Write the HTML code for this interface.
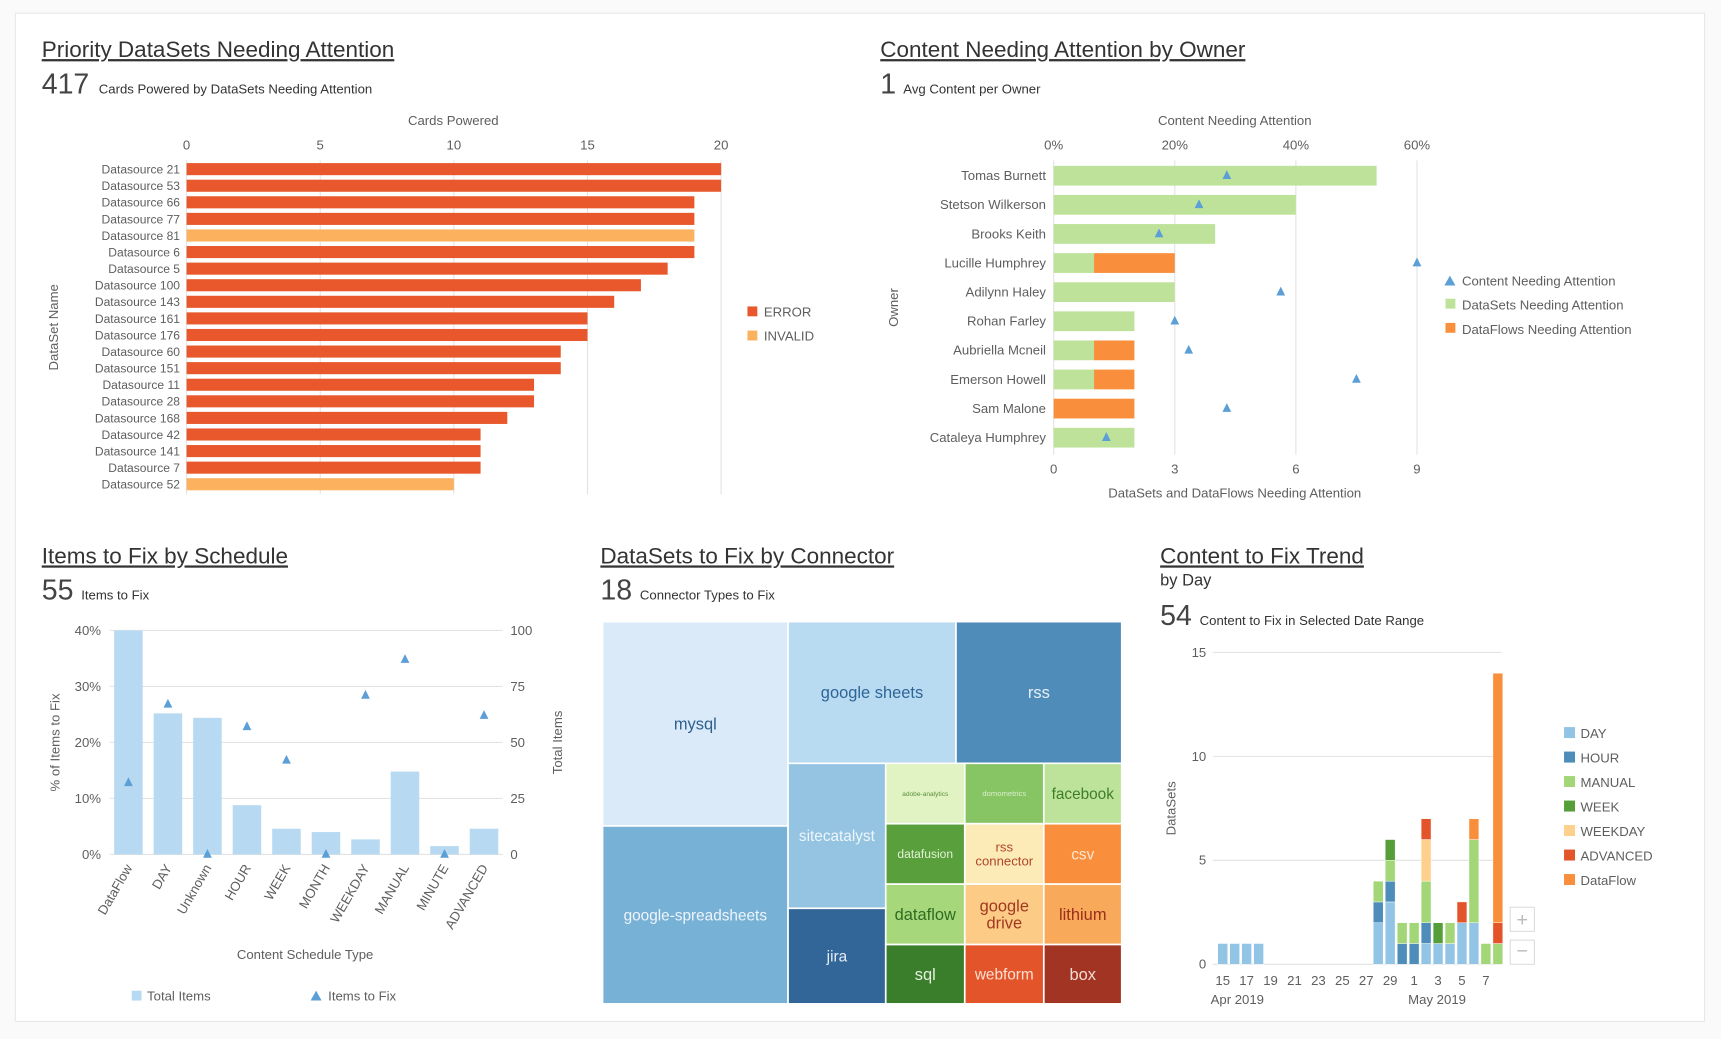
<!DOCTYPE html>
<html><head><meta charset="utf-8">
<style>
html,body{margin:0;padding:0;background:#fff;width:1721px;height:1039px;overflow:hidden}
svg{display:block;font-family:"Liberation Sans",sans-serif}
.t{fill:#5e5e5e;font-size:12px}
.ttl{fill:#333;font-size:20.5px;text-decoration:underline}
.big{fill:#444;font-size:26px;font-weight:300}
.sub{fill:#333;font-size:12px}
.grid{stroke:#e3e3e3;stroke-width:1}
</style></head><body>
<svg id="s" width="1721" height="1039" viewBox="0 0 1568 946" preserveAspectRatio="none">
<rect x="0" y="0" width="1568" height="946" fill="#fafafa"/>
<rect x="14" y="12" width="1539" height="918" fill="#fff" stroke="#e8e8e8"/>
<g id="g1">
<text x="38" y="52" class="ttl">Priority DataSets Needing Attention</text>
<text x="38" y="85" class="big">417</text>
<text x="90" y="85" class="sub">Cards Powered by DataSets Needing Attention</text>
<text x="413" y="114" class="t" text-anchor="middle">Cards Powered</text>
<text x="0" y="0" class="t" text-anchor="middle" transform="translate(53,298) rotate(-90)">DataSet Name</text>
<rect x="681" y="279" width="9" height="9" fill="#e8582c"/>
<text x="696" y="288" class="t">ERROR</text>
<rect x="681" y="301" width="9" height="9" fill="#fbb15e"/>
<text x="696" y="310" class="t">INVALID</text>
</g>
<g id="g2">
<text x="802" y="52" class="ttl">Content Needing Attention by Owner</text>
<text x="802" y="85" class="big">1</text>
<text x="823" y="85" class="sub">Avg Content per Owner</text>
<text x="1125" y="114" class="t" text-anchor="middle">Content Needing Attention</text>
<text x="1125" y="453" class="t" text-anchor="middle">DataSets and DataFlows Needing Attention</text>
<text x="0" y="0" class="t" text-anchor="middle" transform="translate(818,280) rotate(-90)">Owner</text>
<path d="M1316,260 l5,-9 l5,9z" fill="#5b9fd6"/>
<text x="1332" y="260" class="t">Content Needing Attention</text>
<rect x="1317" y="272" width="9" height="9" fill="#bfe29b"/>
<text x="1332" y="282" class="t">DataSets Needing Attention</text>
<rect x="1317" y="294" width="9" height="9" fill="#f98f3c"/>
<text x="1332" y="304" class="t">DataFlows Needing Attention</text>
</g>
<g id="g3">
<text x="38" y="513" class="ttl">Items to Fix by Schedule</text>
<text x="38" y="546" class="big">55</text>
<text x="74" y="546" class="sub">Items to Fix</text>
<text x="0" y="0" class="t" text-anchor="middle" transform="translate(54,676) rotate(-90)">% of Items to Fix</text>
<text x="0" y="0" class="t" text-anchor="middle" transform="translate(512,676) rotate(-90)">Total Items</text>
<text x="278" y="873" class="t" text-anchor="middle">Content Schedule Type</text>
<rect x="120" y="902" width="9" height="9" fill="#b7daf2"/>
<text x="134" y="911" class="t">Total Items</text>
<path d="M283,911 l5,-9 l5,9z" fill="#5b9fd6"/>
<text x="299" y="911" class="t">Items to Fix</text>
</g>
<g id="g4">
<text x="547" y="513" class="ttl">DataSets to Fix by Connector</text>
<text x="547" y="546" class="big">18</text>
<text x="583" y="546" class="sub">Connector Types to Fix</text>
</g>
<g id="g5">
<text x="1057" y="513" class="ttl">Content to Fix Trend</text>
<text x="1057" y="533" style="fill:#333;font-size:15px">by Day</text>
<text x="1057" y="569" class="big">54</text>
<text x="1093" y="569" class="sub">Content to Fix in Selected Date Range</text>
<text x="0" y="0" class="t" text-anchor="middle" transform="translate(1071,736) rotate(-90)">DataSets</text>
<text x="1103" y="914" class="t">Apr 2019</text>
<text x="1283" y="914" class="t">May 2019</text>
<rect x="1376" y="826" width="22" height="22" fill="#fff" stroke="#ddd"/>
<text x="1387" y="843" text-anchor="middle" style="fill:#bbb;font-size:18px">+</text>
<rect x="1376" y="856" width="22" height="22" fill="#fff" stroke="#ddd"/>
<text x="1387" y="872" text-anchor="middle" style="fill:#bbb;font-size:18px">−</text>
</g>
</svg>
<script>
// ---- chart 1 data
const dsNames = ["Datasource 21","Datasource 53","Datasource 66","Datasource 77","Datasource 81","Datasource 6","Datasource 5","Datasource 100","Datasource 143","Datasource 161","Datasource 176","Datasource 60","Datasource 151","Datasource 11","Datasource 28","Datasource 168","Datasource 42","Datasource 141","Datasource 7","Datasource 52"];
const dsCards = [20,20,19,19,19,19,18,17,16,15,15,14,14,13,13,12,11,11,11,10];
const dsStatus = ["E","E","E","E","I","E","E","E","E","E","E","E","E","E","E","E","E","E","E","I"];
const cardTicks = [0,5,10,15,20];
// ---- chart 2 data
const owners = ["Tomas Burnett","Stetson Wilkerson","Brooks Keith","Lucille Humphrey","Adilynn Haley","Rohan Farley","Aubriella Mcneil","Emerson Howell","Sam Malone","Cataleya Humphrey"];
const ownerDatasets = [8,6,4,1,3,2,1,1,0,2];
const ownerDataflows = [0,0,0,2,0,0,1,1,2,0];
const ownerContentPct = [28.6,24,17.4,60,37.5,20,22.3,50,28.6,8.7];
const countTicks = [0,3,6,9];
const pctTicks = ["0%","20%","40%","60%"];
// ---- chart 3 data
const schedCats = ["DataFlow","DAY","Unknown","HOUR","WEEK","MONTH","WEEKDAY","MANUAL","MINUTE","ADVANCED"];
const schedPct = [40,25.2,24.4,8.8,4.6,4,2.7,14.8,1.5,4.6];
const schedItems = [32,67,0,57,42,0,71,87,0,62];
const schedLeftTicks = [0,10,20,30,40];
const schedRightTicks = [0,25,50,75,100];
// ---- chart 5 data
const trendDays = ["15","16","17","18","19","20","21","22","23","24","25","26","27","28","29","30","1","2","3","4","5","6","7","8"];
const trendSeries = ["DAY","HOUR","MANUAL","WEEK","WEEKDAY","ADVANCED","DataFlow"];
const sDAY      = [1,1,1,1,0,0,0,0,0,0,0,0,0,2,3,0,0,1,1,1,2,2,0,0];
const sHOUR     = [0,0,0,0,0,0,0,0,0,0,0,0,0,1,1,1,1,1,0,0,0,0,0,0];
const sMANUAL   = [0,0,0,0,0,0,0,0,0,0,0,0,0,1,1,1,1,2,0,1,0,4,1,1];
const sWEEK     = [0,0,0,0,0,0,0,0,0,0,0,0,0,0,1,0,0,0,1,0,0,0,0,0];
const sWEEKDAY  = [0,0,0,0,0,0,0,0,0,0,0,0,0,0,0,0,0,2,0,0,0,0,0,0];
const sADVANCED = [0,0,0,0,0,0,0,0,0,0,0,0,0,0,0,0,0,1,0,0,1,0,0,1];
const sDataFlow = [0,0,0,0,0,0,0,0,0,0,0,0,0,0,0,0,0,0,0,0,0,1,0,12];
const trendTicks = [0,5,10,15];

const NS="http://www.w3.org/2000/svg";
function mk(parent,tag,attrs,txt){const e=document.createElementNS(NS,tag);for(const k in attrs)e.setAttribute(k,attrs[k]);if(txt!==undefined)e.textContent=txt;parent.appendChild(e);return e;}

// chart 1
(function(){
const g=document.getElementById('g1');
const x=v=>170+v*(657-170)/20;
const y=i=>154+i*15.1;
cardTicks.forEach(t=>{
 const l=mk(g,'line',{x1:x(t),x2:x(t),y1:146,y2:450,class:'grid'});
 
 
 const tx=mk(g,'text',{x:x(t),y:136,class:'t','text-anchor':'middle'},t);
 
 
});
dsNames.forEach((n,i)=>{
 const r=mk(g,'rect',{x:x(0),y:y(i)-5.5,width:x(dsCards[i])-x(0),height:11,fill:dsStatus[i]==="E"?"#e8582c":"#fbb15e"});
 
 
 const t=mk(g,'text',{x:164,y:y(i)+4,class:'t','text-anchor':'end',style:'font-size:11px'},n);
 
 
});
})();

// chart 2
(function(){
const g=document.getElementById('g2');
const x=v=>960+v*(1291-960)/9;
const xp=p=>960+p*(1291-960)/60;
const y=i=>160+i*26.5;
countTicks.forEach((t,i)=>{
 const l=mk(g,'line',{x1:x(t),x2:x(t),y1:146,y2:414,class:'grid'});
 
 
 const a=mk(g,'text',{x:x(t),y:431,class:'t','text-anchor':'middle'},t);
 
 
 const b=mk(g,'text',{x:x(t),y:136,class:'t','text-anchor':'middle'},pctTicks[i]);
 
 
});
owners.forEach((n,i)=>{
 const r1=mk(g,'rect',{x:x(0),y:y(i)-9,width:x(ownerDatasets[i])-x(0),height:18,fill:"#bfe29b"});
 
 
 const r2=mk(g,'rect',{x:x(ownerDatasets[i]),y:y(i)-9,width:x(ownerDataflows[i])-x(0),height:18,fill:"#f98f3c"});
 
 
 const px=xp(ownerContentPct[i]);
 const m=mk(g,'path',{d:`M${px-4},${y(i)+3} l4,-8 l4,8z`,fill:"#5b9fd6"});
 
 
 const t=mk(g,'text',{x:953,y:y(i)+4,class:'t','text-anchor':'end'},n);
 
 
});
})();

// chart 3
(function(){
const g=document.getElementById('g3');
const y=p=>778-p*(778-574)/40;
const yr=v=>778-v*(778-574)/100;
const cx=i=>117+i*36;
schedLeftTicks.forEach((t,i)=>{
 const l=mk(g,'line',{x1:100,x2:458,y1:y(t),y2:y(t),class:'grid'});
 
 
 const a=mk(g,'text',{x:92,y:y(t)+4,class:'t','text-anchor':'end'},t+'%');
 
 
 const b=mk(g,'text',{x:465,y:yr(schedRightTicks[i])+4,class:'t'},schedRightTicks[i]);
 
 
});
schedCats.forEach((c,i)=>{
 const r=mk(g,'rect',{x:cx(i)-13,y:y(schedPct[i]),width:26,height:y(0)-y(schedPct[i]),fill:"#b7daf2"});
 
 
 const my=yr(schedItems[i]);
 const m=mk(g,'path',{d:`M${cx(i)-4},${my+3} l4,-8 l4,8z`,fill:"#5b9fd6"});
 
 
 const t=mk(g,'text',{x:0,y:0,class:'t','text-anchor':'end',transform:`translate(${cx(i)+4},${790}) rotate(-60)`},c);
 
 
});
})();

// chart 4 treemap
(function(){
const g=document.getElementById('g4');
const cells=[
["mysql",549,566,718,752,"#dbeaf9","#2d5f8f",15],
["google-spreadsheets",549,752,718,914,"#78b1d6","#eef5fb",14],
["google sheets",718,566,871,695,"#b9dbf2","#2d6596",15],
["rss",871,566,1022,695,"#4f8cb9","#e6f0f8",15],
["sitecatalyst",718,695,807,827,"#94c4e1","#eef6fb",14],
["jira",718,827,807,914,"#336698","#e6eef6",14],
["adobe-analytics",807,695,879,750,"#e1f3c3","#5a8f3a",6],
["domometrics",879,695,951,750,"#87c463","#d9efc9",7],
["facebook",951,695,1022,750,"#bde39b","#3e7d2a",14],
["datafusion",807,750,879,805,"#599f3b","#e1f1d6",11],
["rss|connector",879,750,951,805,"#fdebb7","#b0442a",12],
["csv",951,750,1022,805,"#f98f3c","#fde6d2",14],
["dataflow",807,805,879,860,"#a6d87b","#2f6b22",15],
["google|drive",879,805,951,860,"#fccb86","#a2381f",15],
["lithium",951,805,1022,860,"#f9a95a","#9a2f1c",15],
["sql",807,860,879,914,"#3a7d2b","#e6f2de",15],
["webform",879,860,951,914,"#e4542b","#fde1d4",14],
["box",951,860,1022,914,"#a23424","#f4dcd6",15]];
cells.forEach(c=>{
 const r=mk(g,'rect',{x:c[1],y:c[2],width:c[3]-c[1],height:c[4]-c[2],fill:c[5],stroke:"#fff","stroke-width":1.5});
 
 
 const lines=c[0].split('|');
 const cx=(c[1]+c[3])/2, cy=(c[2]+c[4])/2;
 lines.forEach((ln,k)=>{
  const t=mk(g,'text',{x:cx,y:cy+c[7]*0.35+(k-(lines.length-1)/2)*c[7]*1.05,'text-anchor':'middle',style:`fill:${c[6]};font-size:${c[7]}px`},ln);
  
  
 });
});
})();

// chart 5
(function(){
const g=document.getElementById('g5');
const y=v=>878-v*(878-594)/15;
const x=i=>1114+i*10.9;
const cols={DAY:"#92c5e5",HOUR:"#4e8cba",MANUAL:"#a2d676",WEEK:"#559e3a",WEEKDAY:"#fdd08b",ADVANCED:"#e4542b",DataFlow:"#f98f3c"};
const data=[sDAY,sHOUR,sMANUAL,sWEEK,sWEEKDAY,sADVANCED,sDataFlow];
trendTicks.forEach(t=>{
 const l=mk(g,'line',{x1:1105,x2:1368,y1:y(t),y2:y(t),class:'grid'});
 
 
 const a=mk(g,'text',{x:1099,y:y(t)+4,class:'t','text-anchor':'end'},t);
 
 
});
trendDays.forEach((d,i)=>{
 let acc=0;
 data.forEach((s,k)=>{
  if(!s[i])return;
  const r=mk(g,'rect',{x:x(i)-4.5,y:y(acc+s[i]),width:9,height:y(acc)-y(acc+s[i]),fill:cols[trendSeries[k]],stroke:"#fff","stroke-width":0.4});
  
  
  acc+=s[i];
 });
 if(i%2===0){
  const t=mk(g,'text',{x:x(i),y:897,class:'t','text-anchor':'middle'},d);
  
  
 }
});
trendSeries.forEach((s,k)=>{
 const yy=667+k*22.3;
 const r=mk(g,'rect',{x:1425,y:yy-5,width:10,height:10,fill:cols[s]});
 
 
 const t=mk(g,'text',{x:1440,y:yy+5,class:'t'},s);
 
 
});
})();
</script>
</body></html>
